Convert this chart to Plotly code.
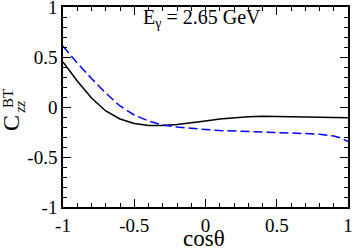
import plotly.graph_objects as go

x_vals = [-1.0, -0.9, -0.8, -0.7, -0.6, -0.5, -0.4, -0.3, -0.2, -0.1, 0.0,
          0.1, 0.2, 0.3, 0.4, 0.5, 0.6, 0.7, 0.8, 0.9, 0.95, 1.0]
black_vals = [0.45, 0.26, 0.09, -0.04, -0.12, -0.165, -0.185, -0.185, -0.175, -0.16, -0.14,
              -0.12, -0.105, -0.097, -0.093, -0.095, -0.097, -0.10, -0.102, -0.105, -0.106, -0.107]
blue_vals = [0.61, 0.44, 0.285, 0.14, 0.01, -0.08, -0.14, -0.18, -0.20, -0.215, -0.225,
             -0.235, -0.242, -0.248, -0.252, -0.256, -0.26, -0.265, -0.272, -0.29, -0.31, -0.345]
tick_vals = [-1, -0.5, 0, 0.5, 1]
tick_text = ["-1", "-0.5", "0", "0.5", "1"]

W, H = 354, 248
ML, MR, MT, MB = 63, 6, 7, 41
PW, PH = W - ML - MR, H - MT - MB
FONT = "Liberation Serif, Times New Roman, Times, serif"

def px(xp):
    return (xp - ML) / PW

def py(yp):
    return 1 - (yp - MT) / PH

fig = go.Figure()
fig.add_trace(go.Scatter(x=x_vals, y=black_vals, mode="lines",
                         line=dict(color="black", width=1.5), showlegend=False))
fig.add_trace(go.Scatter(x=x_vals, y=blue_vals, mode="lines",
                         line=dict(color="#0000ff", width=1.5, dash="9px,4px"), showlegend=False))

axis_common = dict(
    tickvals=tick_vals, ticktext=tick_text, ticks="inside", ticklen=8, tickwidth=1,
    tickcolor="black", showline=True, linecolor="black", linewidth=1.5, mirror="allticks",
    showgrid=False, zeroline=False, tickfont=dict(family=FONT, size=19, color="black"),
    ticklabeloverflow="allow", automargin=False,
    minor=dict(dtick=0.1, ticks="inside", ticklen=4, tickwidth=1, tickcolor="black", showgrid=False),
)
fig.update_xaxes(range=[-1, 1], **axis_common)
fig.update_yaxes(range=[-1, 1], **axis_common)

ann = [
    dict(text="E<sub>γ</sub> = 2.65 GeV", x=px(141), y=py(18), xanchor="left", yanchor="middle",
         font=dict(size=20)),
    dict(text="cosθ", x=px(204), y=py(238), xanchor="center", yanchor="middle",
         font=dict(size=23)),
    dict(text="C", x=px(11), y=py(123), xanchor="center", yanchor="middle", textangle=-90,
         font=dict(size=24)),
    dict(text="BT", x=px(8), y=py(99), xanchor="center", yanchor="middle", textangle=-90,
         font=dict(size=15)),
    dict(text="<i>zz</i>", x=px(20), y=py(107.5), xanchor="center", yanchor="middle", textangle=-90,
         font=dict(size=15)),
]
for a in ann:
    a.update(xref="paper", yref="paper", showarrow=False)
    a["font"].update(family=FONT, color="black")
    fig.add_annotation(**a)

fig.update_layout(width=W, height=H, margin=dict(l=ML, r=MR, t=MT, b=MB),
                  paper_bgcolor="white", plot_bgcolor="white", template="none",
                  font=dict(family=FONT, color="black"))
fig.write_html("out.html", config={"displayModeBar": False},
               post_script="document.body.style.margin='0px';document.body.style.padding='0px';")
